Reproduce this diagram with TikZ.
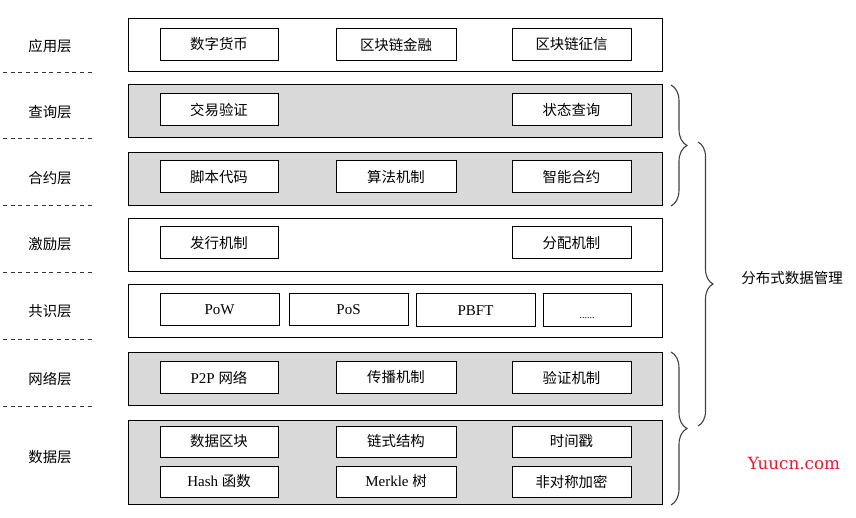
\documentclass[tikz,border=0pt]{standalone}
\usepackage{fontspec}
\setmainfont{Liberation Serif}
\newfontfamily\cjk{Noto Sans CJK SC}
\newfontfamily\wmfont{DejaVu Serif}
\usetikzlibrary{decorations.pathreplacing}
\definecolor{layergray}{HTML}{D9D9D9}
\definecolor{wmred}{RGB}{235,25,45}
\newcommand{\zhtxt}[1]{{\cjk\fontsize{14.4}{16}\selectfont #1}}
\begin{document}
\begin{tikzpicture}[x=1pt,y=-1pt,
  layerbox/.style={draw=black, line width=1.0pt, minimum width=534pt, minimum height=53pt, inner sep=0pt},
  graylayer/.style={layerbox, fill=layergray},
  itembox/.style={draw=black, line width=1.0pt, fill=white, minimum height=32pt, inner sep=0pt, font=\fontsize{15}{17}\selectfont},
  wcol/.style={itembox, minimum width=118pt},
  layerlabel/.style={inner sep=0pt, font=\fontsize{14.4}{16}\selectfont\cjk},
  sep/.style={draw=black!80, line width=0.9pt, dash pattern=on 4pt off 3.7pt},
  bracestyle/.style={draw=black!75, line width=1.1pt, decorate, decoration={brace, amplitude=#1}}
]
\useasboundingbox (0,0) rectangle (856,518);

% layers
\node[layerbox]  (L1) at (395,45.5) {};
\node[graylayer] (L2) at (395,111.5) {};
\node[graylayer] (L3) at (395,179) {};
\node[layerbox]  (L4) at (395,245) {};
\node[layerbox]  (L5) at (395,311) {};
\node[graylayer] (L6) at (395,379) {};
\node[graylayer, minimum height=84pt] (L7) at (395,462) {};

% left labels
\node[layerlabel] (t1) at (50,46) {应用层};
\node[layerlabel] (t2) at (50,112) {查询层};
\node[layerlabel] (t3) at (50,178) {合约层};
\node[layerlabel] (t4) at (50,244) {激励层};
\node[layerlabel] (t5) at (50,311) {共识层};
\node[layerlabel] (t6) at (50,379) {网络层};
\node[layerlabel] (t7) at (50,457) {数据层};

% separators
\foreach \yy/\nm in {72/s1,138/s2,205/s3,272/s4,339/s5,406/s6}{
  \coordinate (\nm a) at (3,\yy);
  \coordinate (\nm b) at (93,\yy);
  \draw[sep] (\nm a) -- (\nm b);
}

% application layer
\node[wcol] (a1) at (219,44.5) {\zhtxt{数字货币}};
\node[wcol, minimum width=120pt] (a2) at (396,44.5) {\zhtxt{区块链金融}};
\node[wcol, minimum width=119pt] (a3) at (571.5,44.5) {\zhtxt{区块链征信}};

% query layer
\node[wcol] (q1) at (219,110) {\zhtxt{交易验证}};
\node[wcol, minimum width=119pt] (q3) at (571.5,110) {\zhtxt{状态查询}};

% contract layer
\node[wcol] (c1) at (219,177) {\zhtxt{脚本代码}};
\node[wcol, minimum width=120pt] (c2) at (396,177) {\zhtxt{算法机制}};
\node[wcol, minimum width=119pt] (c3) at (571.5,177) {\zhtxt{智能合约}};

% incentive layer
\node[wcol] (i1) at (219,243) {\zhtxt{发行机制}};
\node[wcol, minimum width=119pt] (i3) at (571.5,243) {\zhtxt{分配机制}};

% consensus layer
\node[itembox, minimum width=119pt] (p1) at (219.5,310) {PoW};
\node[itembox, minimum width=119pt] (p2) at (348.5,310) {PoS};
\node[itembox, minimum width=119pt, minimum height=33pt] (p3) at (475.5,310.5) {PBFT};
\node[itembox, minimum width=88pt, minimum height=33pt, text height=16pt, text depth=0pt] (p4) at (587,310.5) {\fontsize{10}{12}\selectfont ......};

% network layer
\node[wcol] (n1) at (219,377.5) {P2P \zhtxt{网络}};
\node[wcol, minimum width=120pt] (n2) at (396,377.5) {\zhtxt{传播机制}};
\node[wcol, minimum width=119pt] (n3) at (571.5,377.5) {\zhtxt{验证机制}};

% data layer
\node[wcol, minimum height=31pt] (d1) at (219,441.5) {\zhtxt{数据区块}};
\node[wcol, minimum width=120pt, minimum height=31pt] (d2) at (396,441.5) {\zhtxt{链式结构}};
\node[wcol, minimum width=119pt, minimum height=31pt] (d3) at (571.5,441.5) {\zhtxt{时间戳}};
\node[wcol, minimum height=31pt] (d4) at (219,481.5) {Hash \zhtxt{函数}};
\node[wcol, minimum width=120pt, minimum height=31pt] (d5) at (396,481.5) {Merkle \zhtxt{树}};
\node[wcol, minimum width=119pt, minimum height=31pt] (d6) at (571.5,481.5) {\zhtxt{非对称加密}};

% braces
\coordinate (b1t) at (671,85);
\coordinate (b1b) at (671,206);
\coordinate (b2t) at (698,142);
\coordinate (b2b) at (698,426);
\coordinate (b3t) at (671,352);
\coordinate (b3b) at (671,505);
\draw[bracestyle=16pt] (b1t) -- (b1b);
\draw[bracestyle=15pt] (b2t) -- (b2b);
\draw[bracestyle=16pt] (b3t) -- (b3b);

\node[inner sep=0pt, font=\fontsize{14.5}{16}\selectfont\cjk] (dm) at (792,278) {分布式数据管理};

% watermark
\node[inner sep=0pt, text=wmred, font=\fontsize{16.8}{18}\selectfont\wmfont] (wm) at (794,463) {Yuucn.com};
\end{tikzpicture}
\end{document}
